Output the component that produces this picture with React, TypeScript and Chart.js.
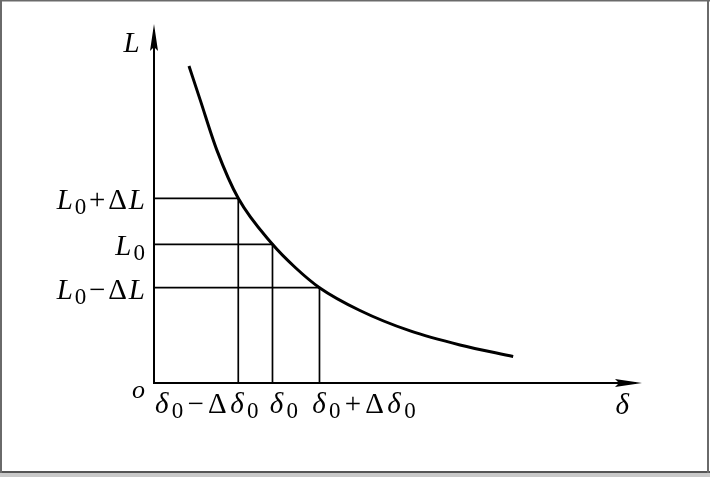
import React, { useEffect, useRef } from "react";
import { Chart, registerables } from "chart.js";

Chart.register(...registerables);

// ---- data (schematic units) ----
const curveDelta = [0.717, 0.943, 1.29, 1.727, 2.428, 2.9, 3.391, 4.22, 5.25, 6.27, 7.36];
const curveL = [8.83, 7.9, 6.48, 5.145, 3.864, 3.21, 2.655, 2.02, 1.45, 1.06, 0.74];

const deltaTickValues = [1.727, 2.428, 3.391];
const deltaTickLabels = ["δ₀−Δδ₀", "δ₀", "δ₀+Δδ₀"];
const lTickValues = [5.145, 3.864, 2.655];
const lTickLabels = ["L₀+ΔL", "L₀", "L₀−ΔL"];

const xAxisTitle = "δ";
const yAxisTitle = "L";
const originLabel = "o";

// ---- layout / style ----
const W = 710;
const H = 477;
const MAIN = 29;
const SUB = 23;
const FAMILY = '"Liberation Serif", "Times New Roman", serif';
const xLabelOffsets = [-85, -4.5, -9];

type Seg = { t: string; italic: boolean; sub: boolean };

function parse(text: string): Seg[] {
  const segs: Seg[] = [];
  for (const ch of text) {
    if (ch === "₀") segs.push({ t: "0", italic: false, sub: true });
    else if (/[a-zA-Zα-ω]/.test(ch)) segs.push({ t: ch, italic: true, sub: false });
    else segs.push({ t: ch, italic: false, sub: false });
  }
  return segs;
}

function fontOf(s: Seg) {
  return `${s.italic ? "italic " : ""}${s.sub ? SUB : MAIN}px ${FAMILY}`;
}

function gapOf(s: Seg, extra: number) {
  return (s.t === "+" || s.t === "−" ? 1.2 : 0.4) + extra;
}

function measureRich(ctx: CanvasRenderingContext2D, segs: Seg[], extra: number) {
  let w = 0;
  for (const s of segs) {
    ctx.font = fontOf(s);
    w += ctx.measureText(s.t).width + 2 * gapOf(s, extra);
  }
  return w;
}

function drawRich(
  ctx: CanvasRenderingContext2D,
  text: string,
  x: number,
  y: number,
  align: "left" | "right",
  extra = 0
) {
  const segs = parse(text);
  const w = measureRich(ctx, segs, extra);
  let cx = align === "right" ? x - w : x;
  ctx.textAlign = "left";
  ctx.textBaseline = "alphabetic";
  ctx.fillStyle = "#000";
  for (const s of segs) {
    ctx.font = fontOf(s);
    cx += gapOf(s, extra);
    ctx.fillText(s.t, cx, s.sub ? y + 5 : y);
    cx += ctx.measureText(s.t).width + gapOf(s, extra);
  }
}

const framePlugin = {
  id: "frame",
  beforeDraw(chart: any) {
    const ctx = chart.ctx as CanvasRenderingContext2D;
    ctx.save();
    ctx.fillStyle = "#ffffff";
    ctx.fillRect(0, 0, W, H);
    ctx.fillStyle = "#c9c9c9";
    ctx.fillRect(0, 473, W, H - 473);
    ctx.fillStyle = "#555555";
    ctx.fillRect(0, 471, W, 2);
    ctx.fillStyle = "#6a6a6a";
    ctx.fillRect(0, 0, W, 1.5);
    ctx.fillRect(0, 0, 2, 473);
    ctx.fillRect(707, 0, 2, 473);
    ctx.restore();
  },
  afterDatasetsDraw(chart: any) {
    const ctx = chart.ctx as CanvasRenderingContext2D;
    const xs = chart.scales.x;
    const ys = chart.scales.y;
    const x0 = xs.getPixelForValue(0);
    const y0 = ys.getPixelForValue(0);
    const xEnd = chart.chartArea.right;
    const yEnd = chart.chartArea.top;
    ctx.save();
    ctx.strokeStyle = "#000";
    ctx.fillStyle = "#000";
    ctx.lineWidth = 2;
    ctx.beginPath();
    ctx.moveTo(x0, y0);
    ctx.lineTo(x0, yEnd + 6);
    ctx.moveTo(x0 - 1, y0);
    ctx.lineTo(xEnd - 6, y0);
    ctx.stroke();
    // y arrow
    ctx.beginPath();
    ctx.moveTo(x0, yEnd);
    ctx.lineTo(x0 + 4, yEnd + 27);
    ctx.lineTo(x0, yEnd + 23);
    ctx.lineTo(x0 - 4, yEnd + 27);
    ctx.closePath();
    ctx.fill();
    // x arrow
    ctx.beginPath();
    ctx.moveTo(xEnd, y0);
    ctx.lineTo(xEnd - 27, y0 - 4);
    ctx.lineTo(xEnd - 23, y0);
    ctx.lineTo(xEnd - 27, y0 + 4);
    ctx.closePath();
    ctx.fill();

    // tick labels
    lTickLabels.forEach((lab, i) => {
      const py = ys.getPixelForValue(lTickValues[i]);
      drawRich(ctx, lab, x0 - 8, py + 11, "right", 0.6);
    });
    deltaTickLabels.forEach((lab, i) => {
      const px = xs.getPixelForValue(deltaTickValues[i]);
      drawRich(ctx, lab, px + xLabelOffsets[i], y0 + 30, "left", 1.3);
    });
    // titles
    drawRich(ctx, yAxisTitle, x0 - 31, yEnd + 28, "left");
    drawRich(ctx, xAxisTitle, xEnd - 27, y0 + 31, "left");
    ctx.font = `italic 26px ${FAMILY}`;
    ctx.fillText(originLabel, x0 - 22, y0 + 15);
    ctx.restore();
  },
};

export default function App() {
  const ref = useRef<HTMLCanvasElement | null>(null);
  useEffect(() => {
    document.body.style.margin = "0";
    if (!ref.current) return;
    const guides = deltaTickValues.map((d, i) => ({
      data: [
        { x: 0, y: lTickValues[i] },
        { x: d, y: lTickValues[i] },
        { x: d, y: 0 },
      ],
      borderColor: "#000",
      borderWidth: 1.7,
      pointRadius: 0,
      tension: 0,
      fill: false,
    }));
    const chart = new Chart(ref.current, {
      type: "line",
      data: {
        datasets: [
          {
            data: curveDelta.map((d, i) => ({ x: d, y: curveL[i] })),
            borderColor: "#000",
            borderWidth: 3,
            pointRadius: 0,
            cubicInterpolationMode: "monotone",
            fill: false,
          },
          ...guides,
        ] as any,
      },
      options: {
        responsive: false,
        animation: false,
        layout: { padding: { left: 154, right: 68, top: 24, bottom: 94 } },
        plugins: { legend: { display: false }, tooltip: { enabled: false } },
        scales: {
          x: { type: "linear", min: 0, max: 10, display: false },
          y: { type: "linear", min: 0, max: 10, display: false },
        },
      },
      plugins: [framePlugin],
    });
    return () => chart.destroy();
  }, []);
  return <canvas ref={ref} width={W} height={H} style={{ display: "block", width: W, height: H }} />;
}
